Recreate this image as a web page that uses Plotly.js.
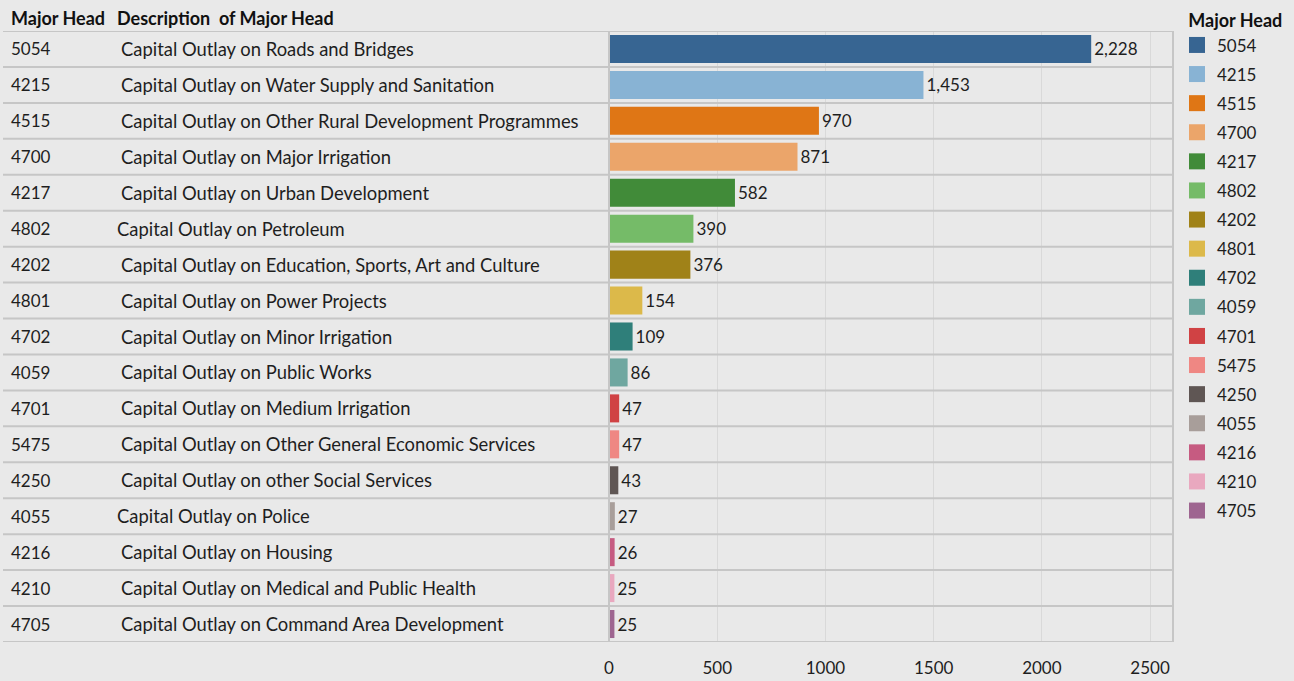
<!DOCTYPE html>
<html>
<head>
<meta charset="utf-8">
<script src="https://cdn.plot.ly/plotly-3.0.1.min.js"></script>
<style>html,body{margin:0;padding:0;background:#e9e9e9;}#chart{width:1294px;height:681px;}</style>
</head>
<body>
<div id="chart"></div>
<script>
const majorHeads = ["5054","4215","4515","4700","4217","4802","4202","4801","4702","4059","4701","5475","4250","4055","4216","4210","4705"];
const descriptions = [
  "Capital Outlay on Roads and Bridges",
  "Capital Outlay on Water Supply and Sanitation",
  "Capital Outlay on Other Rural Development Programmes",
  "Capital Outlay on Major Irrigation",
  "Capital Outlay on Urban Development",
  "Capital Outlay on Petroleum",
  "Capital Outlay on Education, Sports, Art and Culture",
  "Capital Outlay on Power Projects",
  "Capital Outlay on Minor Irrigation",
  "Capital Outlay on Public Works",
  "Capital Outlay on Medium Irrigation",
  "Capital Outlay on Other General Economic Services",
  "Capital Outlay on other Social Services",
  "Capital Outlay on Police",
  "Capital Outlay on Housing",
  "Capital Outlay on Medical and Public Health",
  "Capital Outlay on Command Area Development"
];
const values = [2228,1453,970,871,582,390,376,154,109,86,47,47,43,27,26,25,25];
const colors = ["#376592","#88b3d4","#df7615","#eba56a","#418b39","#75bb68","#a08218","#dcb94a","#2f7f7a","#6fa7a0","#d04244","#ef8783","#5f5654","#a89e9a","#c65b81","#e9a8bf","#9e6590"];
const xTicks = [0,500,1000,1500,2000,2500];
const headerLabels = ["Major Head","Description  of Major Head"];
const legendTitle = "Major Head";

const FONT = "Lato, 'Noto Sans', sans-serif";
const W = 1294, H = 681;
const L = 609, R = 121, T = 31, B = 39;
const pw = W - L - R, ph = H - T - B;
const px = p => (p - L) / pw;          // pixel x -> paper x
const py = p => 1 - (p - T) / ph;      // pixel y -> paper y
const slightlyLeftRows = new Set([5, 13]); // rows whose description sits a few px further left

const barTraces = majorHeads.map((mh, i) => ({
  type: 'bar', orientation: 'h',
  x: [values[i]], y: [mh],
  name: mh, legendgroup: mh, showlegend: false,
  marker: {color: colors[i]},
  width: 0.78,
  text: [values[i].toLocaleString('en-US')],
  textposition: 'outside',
  cliponaxis: false,
  textfont: {family: FONT, size: 17, color: '#1e1e1e'},
  hoverinfo: 'x+y'
}));
// legend swatches (same categories/colours as the bars)
const legendTraces = majorHeads.map((mh, i) => ({
  type: 'scatter', mode: 'markers',
  x: [null], y: [null],
  name: mh, legendgroup: mh, showlegend: true,
  marker: {color: colors[i], symbol: 'square', size: 16},
  hoverinfo: 'skip'
}));

const annotations = [];
majorHeads.forEach((mh, i) => {
  annotations.push({xref:'paper', yref:'y', x: px(9), y: i, text: mh, showarrow:false,
    xanchor:'left', yanchor:'middle', font:{family:FONT, size:17, color:'#1e1e1e'}});
  annotations.push({xref:'paper', yref:'y', x: px(slightlyLeftRows.has(i) ? 115 : 119), y: i, text: descriptions[i], showarrow:false,
    xanchor:'left', yanchor:'middle', font:{family:FONT, size:18.4, color:'#1e1e1e'}});
});
annotations.push({xref:'paper', yref:'paper', x: px(9), y: py(18), text: '<b>'+headerLabels[0]+'</b>', showarrow:false,
  xanchor:'left', yanchor:'middle', font:{family:FONT, size:18, color:'#111'}});
annotations.push({xref:'paper', yref:'paper', x: px(115), y: py(18), text: '<b>'+headerLabels[1]+'</b>', showarrow:false,
  xanchor:'left', yanchor:'middle', font:{family:FONT, size:18, color:'#111'}});

const shapes = [];
for (let i = 0; i <= majorHeads.length; i++) {
  shapes.push({type:'line', xref:'paper', yref:'y', x0: px(3), x1: 1, y0: i - 0.5, y1: i - 0.5,
    line:{color:'#c6c6c6', width:2}, layer:'above'});
}
shapes.push({type:'line', xref:'paper', yref:'paper', x0:0, x1:0, y0:0, y1:1, line:{color:'#c6c6c6', width:2}});
shapes.push({type:'line', xref:'paper', yref:'paper', x0:1, x1:1, y0:0, y1:1, line:{color:'#c6c6c6', width:2}});

const layout = {
  width: W, height: H,
  paper_bgcolor: '#e9e9e9', plot_bgcolor: '#e9e9e9',
  margin: {l: L, r: R, t: T, b: B, pad: 0, autoexpand: false},
  barmode: 'overlay',
  showlegend: true,
  font: {family: FONT, size: 17, color: '#1e1e1e'},
  xaxis: {
    range: [0, 2606], tickvals: xTicks, ticktext: xTicks.map(String),
    showgrid: true, gridcolor: '#d9d9d9', gridwidth: 1,
    zeroline: false, showline: false,
    ticks: 'outside', ticklen: 11, tickcolor: 'rgba(0,0,0,0)',
    tickfont: {family: FONT, size: 17, color: '#1e1e1e'},
    fixedrange: true
  },
  yaxis: {
    type: 'category', categoryorder: 'array', categoryarray: majorHeads,
    range: [majorHeads.length - 0.5, -0.5],
    showticklabels: false, showgrid: false, zeroline: false, ticks: '',
    fixedrange: true
  },
  legend: {
    x: px(1177), xanchor: 'left', y: py(4), yanchor: 'top',
    maxheight: 660,
    bgcolor: 'rgba(0,0,0,0)', borderwidth: 0,
    tracegroupgap: 4, itemclick: false, itemdoubleclick: false,
    title: {text: '&nbsp;&nbsp;<b>' + legendTitle + '</b>', font: {family: FONT, size: 18, color: '#111'}},
    font: {family: FONT, size: 17, color: '#1e1e1e'}
  },
  annotations, shapes
};

Plotly.newPlot('chart', barTraces.concat(legendTraces), layout, {displayModeBar: false});
</script>
</body>
</html>
